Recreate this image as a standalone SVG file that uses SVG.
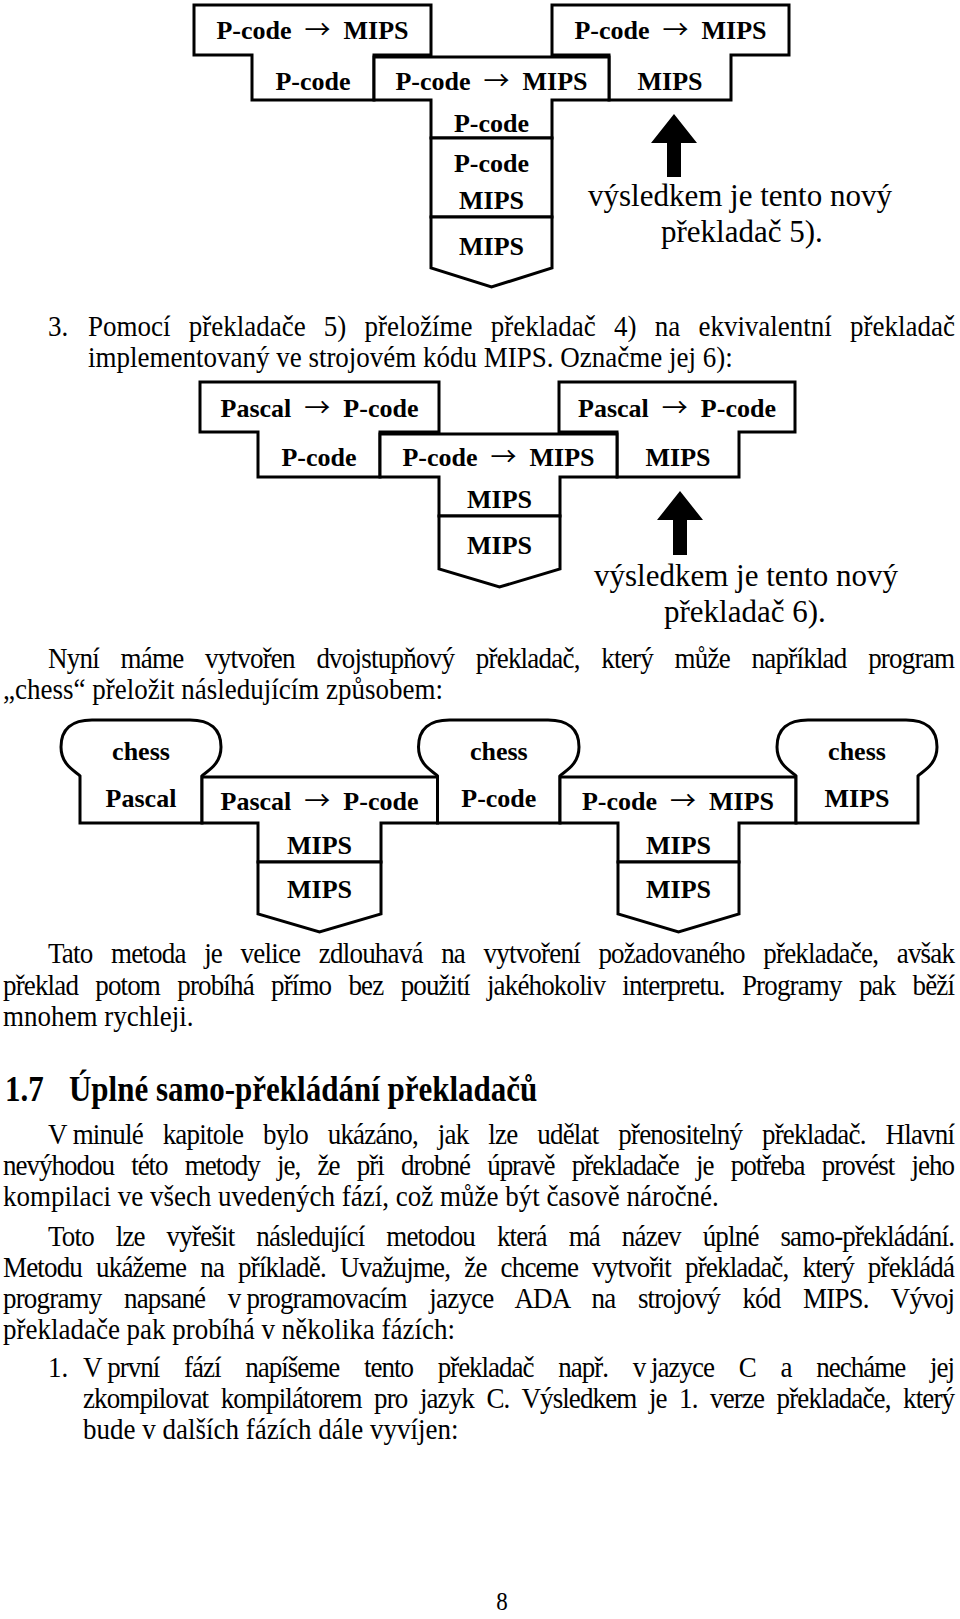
<svg xmlns="http://www.w3.org/2000/svg" width="960" height="1619" viewBox="0 0 960 1619">
<style>
.bg{fill:#fff}
.s{fill:#fff;stroke:#000;stroke-width:3;stroke-linejoin:miter}
.ar{fill:#000;stroke:none}
.l{font-family:"Liberation Serif","Times New Roman",serif;font-weight:bold;font-size:26px;text-anchor:middle;fill:#000}
.a{font-family:"Noto Sans CJK JP","DejaVu Sans",sans-serif;font-weight:normal}
.b{font-family:"Liberation Serif","Times New Roman",serif;font-size:27px;fill:#000}
.n{font-family:"Liberation Serif","Times New Roman",serif;font-size:31px;fill:#000}
.h{font-family:"Liberation Serif","Times New Roman",serif;font-size:31px;font-weight:bold;fill:#000}
.pg{font-family:"Liberation Serif","Times New Roman",serif;font-size:23px;text-anchor:middle;fill:#000}
.z{word-spacing:0}
</style>
<rect class="bg" x="0" y="0" width="960" height="1619"/>

<!-- Diagram 1 -->
<g id="d1-left-T">
<path class="s" d="M194,5 H431 V55 H374 V100 H252 V55 H194 Z"/>
<text class="l" x="312.5" y="39" xml:space="preserve">P-code  <tspan class="a">→</tspan>  MIPS</text>
<text class="l" x="313" y="90">P-code</text>
</g>
<g id="d1-right-T">
<path class="s" d="M552,5 H789 V55 H731 V100 H609 V55 H552 Z"/>
<text class="l" x="670.5" y="39" xml:space="preserve">P-code  <tspan class="a">→</tspan>  MIPS</text>
<text class="l" x="670" y="90">MIPS</text>
</g>
<g id="d1-middle-T">
<path class="s" d="M374,57 H609 V100 H552 V138 H431 V100 H374 Z"/>
<text class="l" x="491.5" y="90" xml:space="preserve">P-code  <tspan class="a">→</tspan>  MIPS</text>
<text class="l" x="491.5" y="132">P-code</text>
</g>
<g id="d1-interpreter">
<rect class="s" x="431" y="138" width="121" height="79"/>
<text class="l" x="491.5" y="172">P-code</text>
<text class="l" x="491.5" y="209">MIPS</text>
</g>
<g id="d1-machine">
<path class="s" d="M431,217 H552 V268 L491.5,287 L431,268 Z"/>
<text class="l" x="491.5" y="255">MIPS</text>
</g>
<g id="d1-note">
<text class="n" x="588" y="206">výsledkem je tento nový</text>
<text class="n" x="661" y="242">překladač 5).</text>
</g>

<!-- Diagram 2 -->
<g id="d2-left-T">
<path class="s" d="M200,382 H439 V432 H380 V477 H258 V432 H200 Z"/>
<text class="l" x="319.5" y="417" xml:space="preserve">Pascal  <tspan class="a">→</tspan>  P-code</text>
<text class="l" x="319" y="466">P-code</text>
</g>
<g id="d2-right-T">
<path class="s" d="M559,382 H795 V432 H739 V477 H617 V432 H559 Z"/>
<text class="l" x="677" y="417" xml:space="preserve">Pascal  <tspan class="a">→</tspan>  P-code</text>
<text class="l" x="678" y="466">MIPS</text>
</g>
<g id="d2-middle-T">
<path class="s" d="M380,434 H617 V477 H560 V516 H439 V477 H380 Z"/>
<text class="l" x="498.5" y="466" xml:space="preserve">P-code  <tspan class="a">→</tspan>  MIPS</text>
<text class="l" x="499.5" y="508">MIPS</text>
</g>
<g id="d2-machine">
<path class="s" d="M439,516 H560 V569 L499.5,587 L439,569 Z"/>
<text class="l" x="499.5" y="554">MIPS</text>
</g>
<g id="d2-note">
<text class="n" x="594" y="586">výsledkem je tento nový</text>
<text class="n" x="664" y="622">překladač 6).</text>
</g>

<!-- Diagram 3 -->
<g id="d3-chess-pascal">
<path class="s" d="M80,823 V776 C77,772 61,766 61,747 C61,729 72,720 92,720 H190 C210,720 221,729 221,747 C221,766 205,772 202,776 V823 Z"/>
<text class="l" x="141" y="760">chess</text>
<text class="l" x="141" y="807">Pascal</text>
</g>
<g id="d3-compiler1">
<path class="s" d="M202,777 H437.5 V823 H381 V862 H258 V823 H202 Z"/>
<text class="l" x="319.5" y="810" xml:space="preserve">Pascal  <tspan class="a">→</tspan>  P-code</text>
<text class="l" x="319.5" y="854">MIPS</text>
</g>
<g id="d3-machine1">
<path class="s" d="M258,862 H381 V914 L319.5,932 L258,914 Z"/>
<text class="l" x="319.5" y="898">MIPS</text>
</g>
<g id="d3-chess-pcode">
<path class="s" d="M437.5,823 V776 C434.5,772 418.5,766 418.5,747 C418.5,729 429.5,720 449.5,720 H548 C568,720 579,729 579,747 C579,766 563,772 560,776 V823 Z"/>
<text class="l" x="498.8" y="760">chess</text>
<text class="l" x="498.8" y="807">P-code</text>
</g>
<g id="d3-compiler2">
<path class="s" d="M560,777 H796 V823 H739 V862 H618 V823 H560 Z"/>
<text class="l" x="678" y="810" xml:space="preserve">P-code  <tspan class="a">→</tspan>  MIPS</text>
<text class="l" x="678.5" y="854">MIPS</text>
</g>
<g id="d3-machine2">
<path class="s" d="M618,862 H739 V914 L678.5,932 L618,914 Z"/>
<text class="l" x="678.5" y="898">MIPS</text>
</g>
<g id="d3-chess-mips">
<path class="s" d="M796,823 V776 C793,772 777,766 777,747 C777,729 788,720 808,720 H906 C926,720 937,729 937,747 C937,766 921,772 918,776 V823 Z"/>
<text class="l" x="857" y="760">chess</text>
<text class="l" x="857" y="807">MIPS</text>
</g>

<g id="connectors">
<path class="ar" d="M674,114 L697,143 L681,143 L681,177 L667,177 L667,143 L651,143 Z"/>
<path class="ar" d="M680,491 L703,520 L687,520 L687,555 L673,555 L673,520 L657,520 Z"/>
</g>

<!-- Body text -->
<g id="heading" transform="scale(1 1.15)">
<text class="h" x="5" y="957.39">1.7</text>
<text class="h" x="69" y="957.39">Úplné samo-překládání překladačů</text>
</g>
<g id="text" transform="scale(1 1.08)">
<text class="b" x="48" y="311.11">3.</text>
<text class="b" x="88" y="311.11" style="word-spacing:11.5px" textLength="867" lengthAdjust="spacing">Pomocí překladače 5) přeložíme překladač 4) na ekvivalentní překladač</text>
<text class="b" x="88" y="339.81">implementovaný ve strojovém kódu MIPS. Označme jej 6):</text>
<text class="b" x="48" y="618.52" style="word-spacing:15.6px" textLength="907" lengthAdjust="spacing">Nyní máme vytvořen dvojstupňový překladač, který může například program</text>
<text class="b" x="3" y="647.22">„chess“ přeložit následujícím způsobem:</text>
<text class="b" x="48" y="891.67" style="word-spacing:12.6px" textLength="907" lengthAdjust="spacing">Tato metoda je velice zdlouhavá na vytvoření požadovaného překladače, avšak</text>
<text class="b" x="3" y="921.3" style="word-spacing:11.3px" textLength="952" lengthAdjust="spacing">překlad potom probíhá přímo bez použití jakéhokoliv interpretu. Programy pak běží</text>
<text class="b" x="3" y="950">mnohem rychleji.</text>
<text class="b" x="48" y="1059.26" style="word-spacing:13.9px" textLength="907" lengthAdjust="spacing">V<tspan class="z">&#160;</tspan>minulé kapitole bylo ukázáno, jak lze udělat přenositelný překladač. Hlavní</text>
<text class="b" x="3" y="1087.96" style="word-spacing:11.5px" textLength="952" lengthAdjust="spacing">nevýhodou této metody je, že při drobné úpravě překladače je potřeba provést jeho</text>
<text class="b" x="3" y="1116.67">kompilaci ve všech uvedených fází, což může být časově náročné.</text>
<text class="b" x="48" y="1153.7" style="word-spacing:15.9px" textLength="907" lengthAdjust="spacing">Toto lze vyřešit následující metodou která má název úplné samo-překládání.</text>
<text class="b" x="3" y="1182.41" style="word-spacing:8.1px" textLength="952" lengthAdjust="spacing">Metodu ukážeme na příkladě. Uvažujme, že chceme vytvořit překladač, který překládá</text>
<text class="b" x="3" y="1211.11" style="word-spacing:16.6px" textLength="952" lengthAdjust="spacing">programy napsané v<tspan class="z">&#160;</tspan>programovacím jazyce ADA na strojový kód MIPS. Vývoj</text>
<text class="b" x="3" y="1239.81">překladače pak probíhá v několika fázích:</text>
<text class="b" x="48" y="1275">1.</text>
<text class="b" x="83" y="1275" style="word-spacing:19px" textLength="872" lengthAdjust="spacing">V<tspan class="z">&#160;</tspan>první fází napíšeme tento překladač např. v<tspan class="z">&#160;</tspan>jazyce C a necháme jej</text>
<text class="b" x="83" y="1303.7" style="word-spacing:6.6px" textLength="872" lengthAdjust="spacing">zkompilovat kompilátorem pro jazyk C. Výsledkem je 1. verze překladače, který</text>
<text class="b" x="83" y="1332.41">bude v dalších fázích dále vyvíjen:</text>
<text class="pg" x="502" y="1490.74">8</text>
</g>
</svg>
